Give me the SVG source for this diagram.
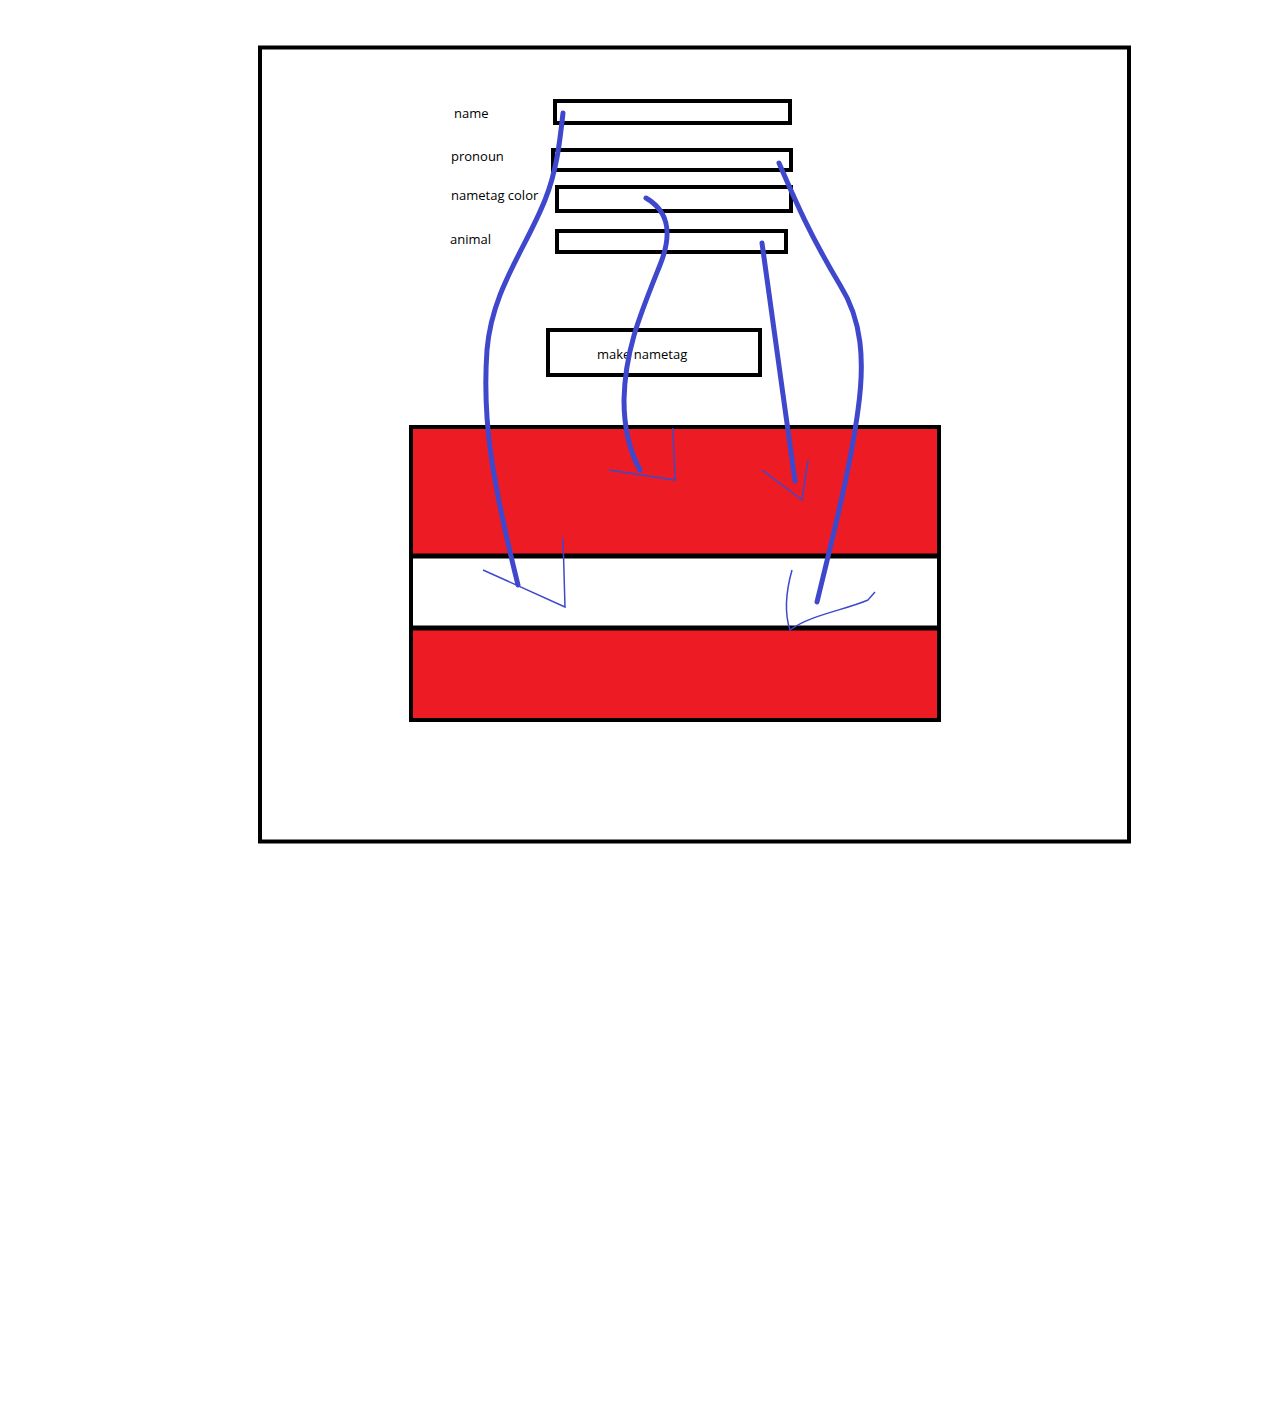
<svg xmlns="http://www.w3.org/2000/svg" width="1280" height="1402" viewBox="0 0 1280 1402">
<style>
.box{fill:#fff;stroke:#000;stroke-width:4}
.lbl{font-family:"Open Sans","Liberation Sans",sans-serif;font-size:13px;fill:#000}
.thick{fill:none;stroke:#3f48cc;stroke-width:5;stroke-linecap:round}
.thin{fill:none;stroke:#3f48cc;stroke-width:1.5}
</style>
<rect width="1280" height="1402" fill="#fff"/>
<rect id="frame" x="260" y="47.5" width="869" height="794" fill="none" stroke="#000" stroke-width="4"/>
<g id="name-field">
<text class="lbl" x="454" y="118">name</text>
<rect class="box" x="555" y="101" width="235" height="22"/>
</g>
<g id="pronoun-field">
<text class="lbl" x="451" y="161">pronoun</text>
<rect class="box" x="553" y="150" width="238" height="20"/>
</g>
<g id="color-field">
<text class="lbl" x="451" y="200">nametag color</text>
<rect class="box" x="557" y="187" width="234" height="24"/>
</g>
<g id="animal-field">
<text class="lbl" x="450" y="244">animal</text>
<rect class="box" x="557" y="231" width="229" height="21"/>
</g>
<g id="button">
<rect class="box" x="548" y="330" width="212" height="45"/>
<text class="lbl" x="597" y="359">make nametag</text>
</g>
<g id="nametag">
<rect x="411" y="427" width="528" height="293" fill="#ed1c24" stroke="#000" stroke-width="4"/>
<rect x="413" y="558" width="524" height="69" fill="#fff"/>
<line x1="411" y1="556" x2="939" y2="556" stroke="#000" stroke-width="5"/>
<line x1="411" y1="628" x2="939" y2="628" stroke="#000" stroke-width="5"/>
</g>
<g id="connectors">
<path class="thick" d="M563,113 C560,140 557,170 545,200 C525,250 492,290 487,350 C482,420 492,480 518,585"/>
<path class="thin" d="M483,570 L565,607 L563,538"/>
<path class="thick" d="M646,198 C670,212 672,235 660,265 C640,315 625,350 624,400 C624,430 630,452 640,470"/>
<path class="thin" d="M609,470 L675,480 L673,428"/>
<path class="thick" d="M762,243 L795,481"/>
<path class="thin" d="M762,470 L802,500 L808,460"/>
<path class="thick" d="M779,163 C795,200 810,235 840,285 C862,320 865,360 858,410 C850,470 832,540 817,602"/>
<path class="thin" d="M792,570 C785,595 785,615 790,630 C810,615 845,610 868,600 L875,592"/>
</g>
</svg>
